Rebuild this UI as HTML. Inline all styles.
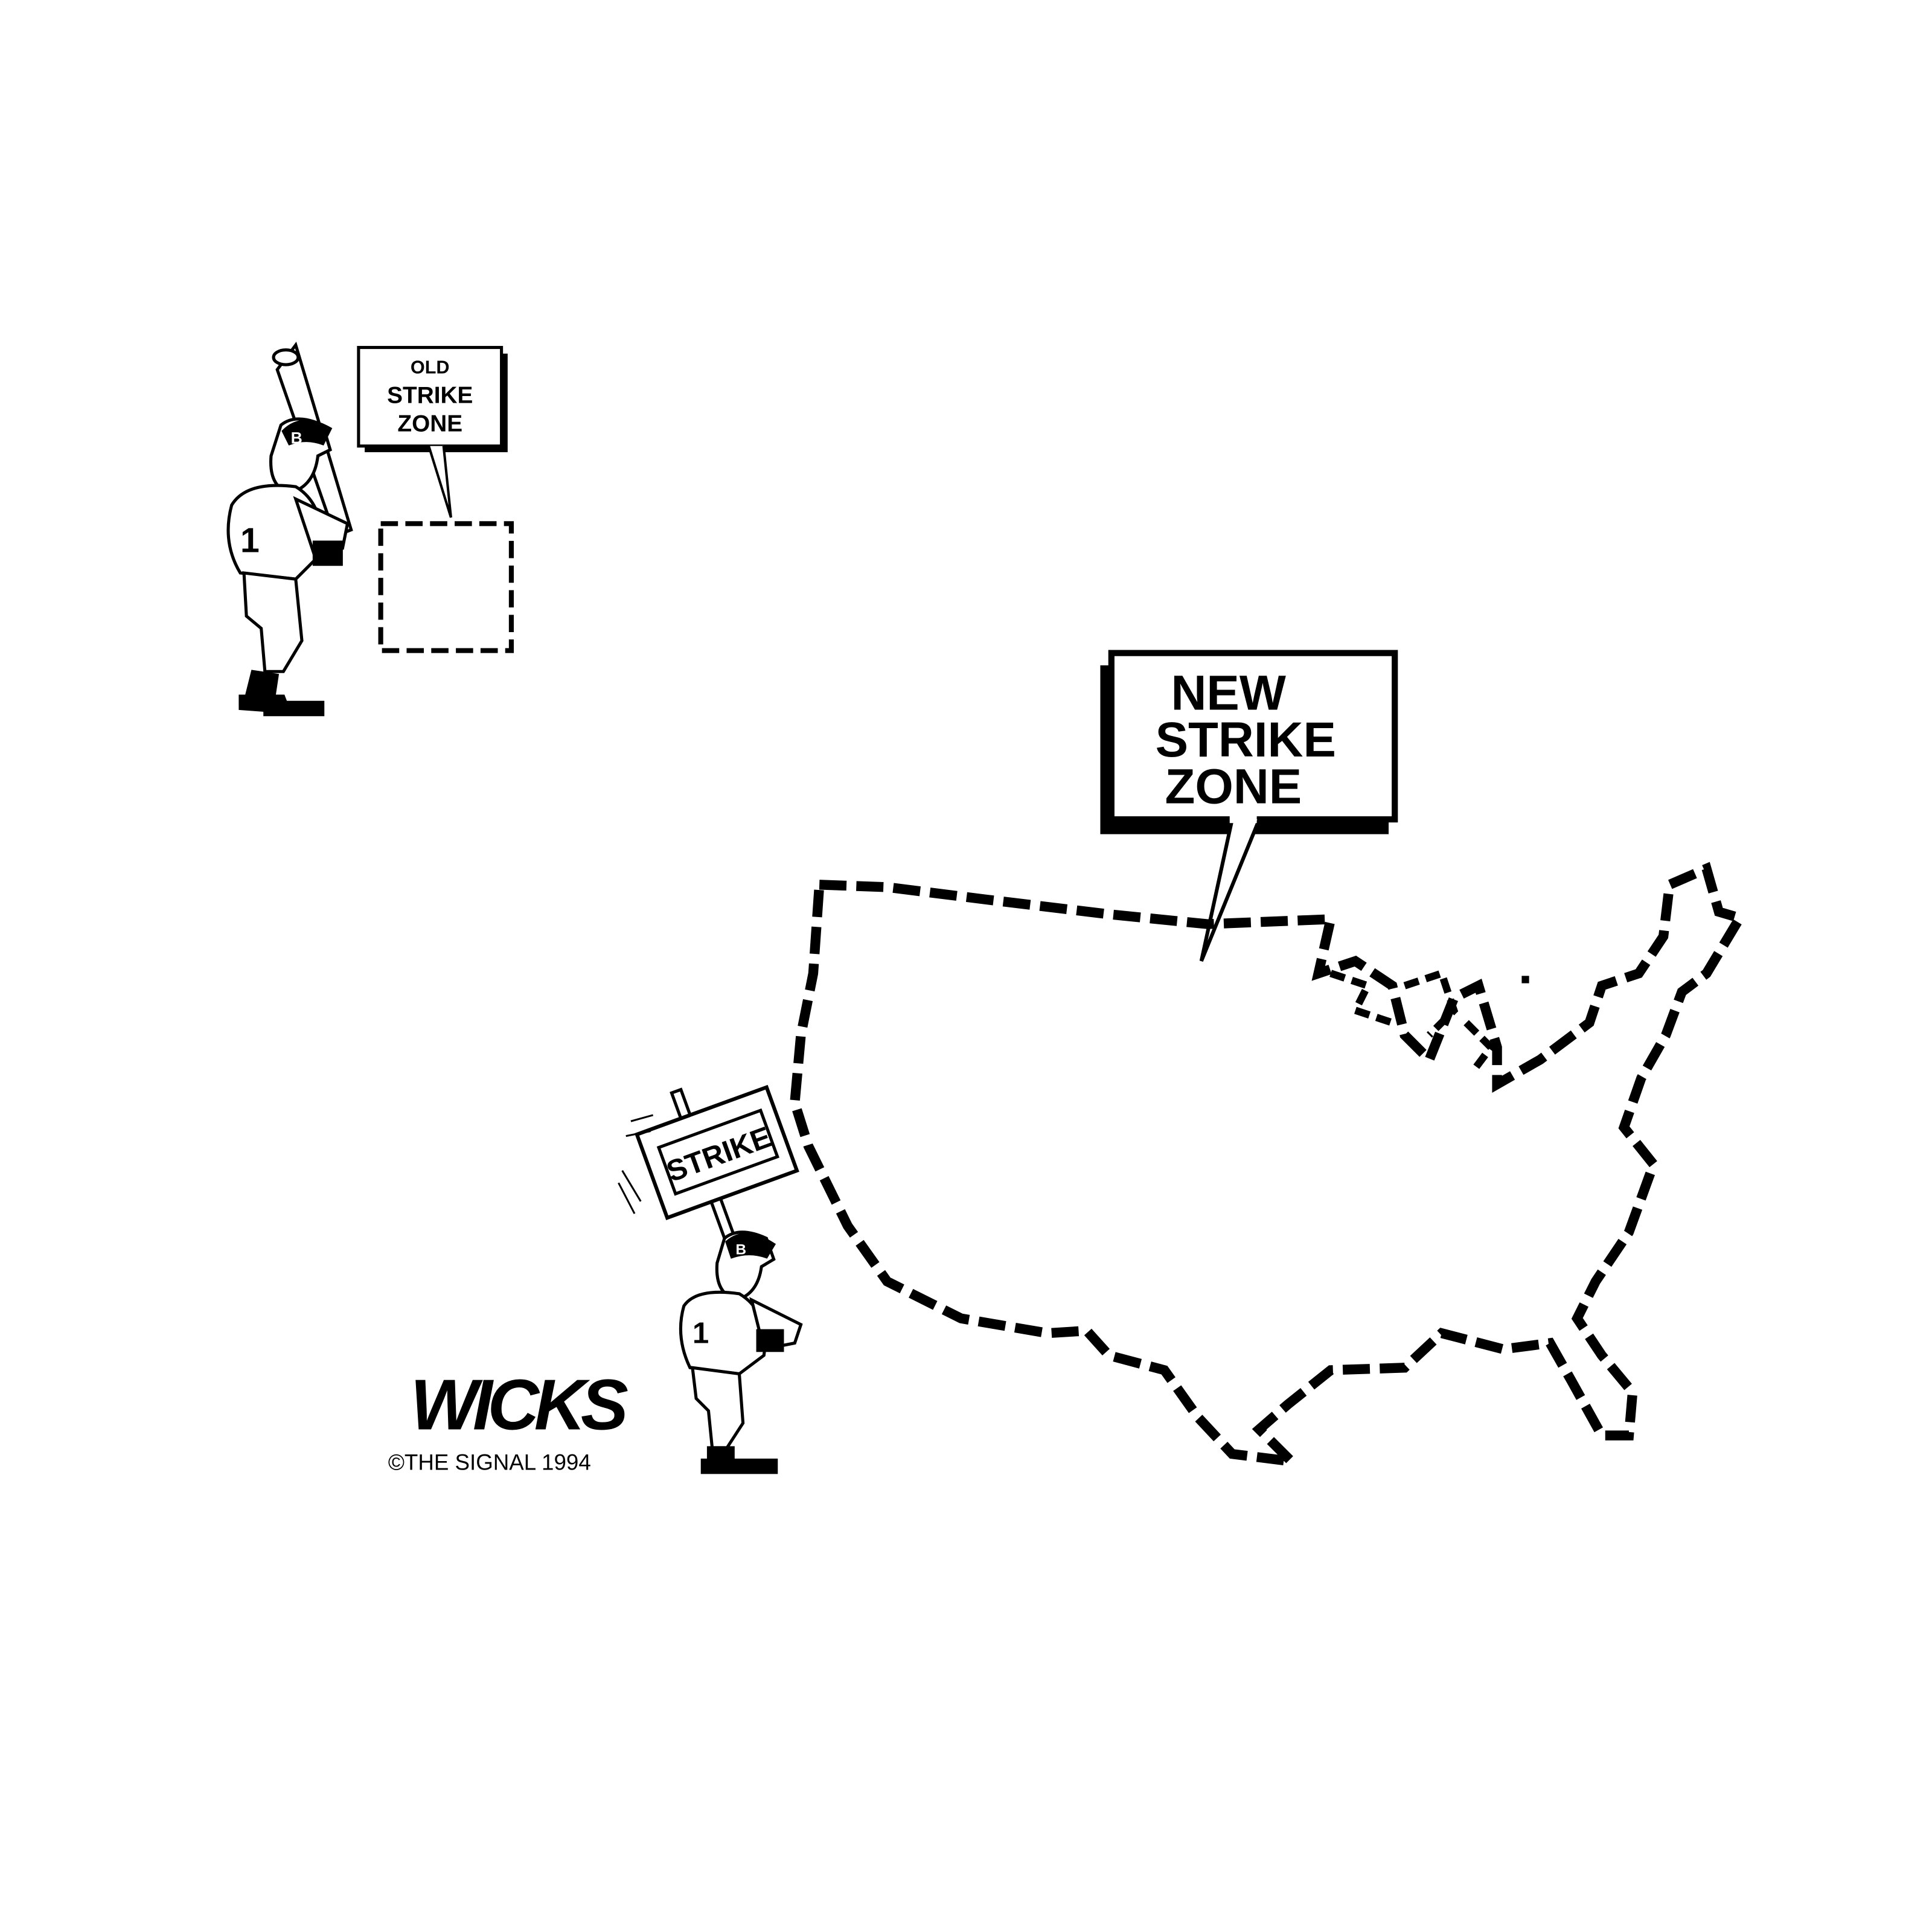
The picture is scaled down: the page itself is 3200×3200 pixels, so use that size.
<!DOCTYPE html>
<html><head><meta charset="utf-8"><style>
html,body{margin:0;padding:0;background:#fff;}
svg{display:block;}
text{font-family:"Liberation Sans",sans-serif;}
</style></head><body>
<svg width="3200" height="3200" viewBox="0 0 1568 1568" xmlns="http://www.w3.org/2000/svg">
<rect width="1568" height="1568" fill="#fff"/>

<!-- OLD strike zone bubble -->
<rect x="296" y="287" width="116" height="80" fill="#000"/>
<rect x="291" y="282" width="116" height="80" fill="#fff" stroke="#000" stroke-width="2.5"/>
<path d="M348 362 L366 420 L360 362" fill="#fff" stroke="#000" stroke-width="2"/>
<text x="349" y="303" font-size="15" text-anchor="middle" font-weight="bold">OLD</text>
<text x="349" y="327" font-size="19" text-anchor="middle" font-weight="600">STRIKE</text>
<text x="349" y="350" font-size="19" text-anchor="middle" font-weight="600">ZONE</text>
<rect x="309" y="425" width="106" height="103" fill="none" stroke="#000" stroke-width="4" stroke-dasharray="14 6"/>

<!-- batter 1 -->
<g stroke="#000" stroke-width="2.5" fill="#fff">
<path d="M225 300 L240 280 L285 430 L272 435 Z"/>
<ellipse cx="232" cy="290" rx="10" ry="6"/>
<path d="M228 345 Q240 335 262 345 L268 365 L258 370 Q255 395 235 400 Q218 395 220 370 Z"/>
<path d="M230 350 Q245 335 268 348 L262 360 Q248 355 235 360 Z" fill="#000"/>
<path d="M188 410 Q200 390 240 395 Q265 410 260 450 L240 470 L195 465 Q180 440 188 410 Z"/>
<path d="M240 405 L282 425 L278 445 L255 450 Z"/>
<rect x="255" y="440" width="22" height="18" fill="#000"/>
<path d="M198 465 L240 470 L245 520 L230 545 L215 545 L212 510 L200 500 Z"/>
<path d="M205 545 L225 548 L222 568 L200 565 Z" fill="#000"/>
<path d="M195 565 L230 565 L235 578 L195 575 Z" fill="#000"/>
<path d="M215 570 L262 570 L262 580 L215 580 Z" fill="#000"/>
</g>
<text x="236" y="360" font-size="13" fill="#fff" font-weight="bold">B</text>
<text x="195" y="448" font-size="28" font-weight="bold">1</text>

<!-- NEW strike zone bubble -->
<rect x="893" y="540" width="234" height="137" fill="#000"/>
<rect x="902" y="530" width="230" height="135" fill="#fff" stroke="#000" stroke-width="5"/>
<path d="M1000 665 L975 780 L1022 665" fill="#fff" stroke="#000" stroke-width="3"/>
<rect x="998" y="660" width="22" height="8" fill="#fff"/>
<text x="997" y="576" font-size="40" text-anchor="middle" font-weight="bold">NEW</text>
<text x="1011" y="614" font-size="40" text-anchor="middle" font-weight="600">STRIKE</text>
<text x="1001" y="652" font-size="40" text-anchor="middle" font-weight="600">ZONE</text>

<!-- US map outline -->
<path d="M665 718 L720 720 L800 730 L900 742 L980 750 L1080 746 L1070 790 L1100 780 L1130 800 L1140 840 L1160 860 L1180 810 L1200 800 L1215 850 L1215 880 L1250 860 L1290 830 L1300 800 L1330 790 L1350 760 L1355 718 L1385 705 L1395 740 L1412 745 L1385 790 L1365 805 L1352 840 L1332 875 L1318 915 L1342 945 L1322 1000 L1295 1040 L1280 1070 L1300 1100 L1325 1130 L1322 1165 L1300 1165 L1275 1120 L1258 1090 L1220 1095 L1170 1082 L1140 1110 L1080 1112 L1045 1140 L1022 1160 L1048 1186 L1000 1180 L972 1150 L945 1112 L900 1100 L882 1080 L850 1082 L780 1070 L720 1040 L688 995 L656 930 L645 895 L650 840 L660 790 L665 718 Z"
 fill="none" stroke="#000" stroke-width="8" stroke-dasharray="22 8" stroke-linejoin="miter"/>
<g fill="none" stroke="#000" stroke-width="6" stroke-dasharray="12 6">
<path d="M1080 790 L1110 800 L1100 820 L1130 830"/>
<path d="M1140 800 L1170 790 L1180 820 L1160 840"/>
<path d="M1190 830 L1210 850 L1195 870"/>
</g>
<rect x="1235" y="792" width="6" height="6" fill="#000"/>

<!-- strike sign + batter 2 -->
<g transform="rotate(-20 575 940)">
<rect x="565" y="880" width="8" height="130" fill="#fff" stroke="#000" stroke-width="2.5"/>
<rect x="527" y="902" width="112" height="72" fill="#fff" stroke="#000" stroke-width="3"/>
<rect x="540" y="918" width="88" height="40" fill="#fff" stroke="#000" stroke-width="2.5"/>
<text x="584" y="948" font-size="24" text-anchor="middle" font-weight="bold">STRIKE</text>
</g>
<g stroke="#000" stroke-width="1.5"><path d="M512 910 L530 905 M508 922 L528 918 M505 950 L520 975 M502 960 L515 985"/></g>
<g stroke="#000" stroke-width="2.5" fill="#fff">
<path d="M588 1005 Q600 995 622 1005 L628 1022 L618 1028 Q615 1050 598 1055 Q580 1050 582 1025 Z"/>
<path d="M590 1008 Q605 995 628 1010 L622 1020 Q608 1015 594 1020 Z" fill="#000"/>
<path d="M555 1060 Q565 1045 600 1050 Q625 1065 620 1100 L600 1115 L560 1110 Q548 1085 555 1060 Z"/>
<path d="M610 1055 L650 1075 L645 1090 L620 1095 Z"/>
<rect x="615" y="1080" width="20" height="16" fill="#000"/>
<path d="M562 1110 L600 1115 L603 1155 L590 1175 L578 1175 L575 1145 L565 1135 Z"/>
<path d="M575 1175 L595 1175 L595 1190 L575 1188 Z" fill="#000"/>
<path d="M570 1185 L630 1185 L630 1195 L570 1195 Z" fill="#000"/>
</g>
<text x="597" y="1018" font-size="12" fill="#fff" font-weight="bold">B</text>
<text x="562" y="1090" font-size="24" font-weight="bold">1</text>

<!-- signature -->
<text x="333" y="1160" font-size="58" font-weight="bold" font-style="italic" letter-spacing="-2" textLength="175">WICKS</text>
<text x="315" y="1193" font-size="18">©THE SIGNAL 1994</text>
</svg>
</body></html>
